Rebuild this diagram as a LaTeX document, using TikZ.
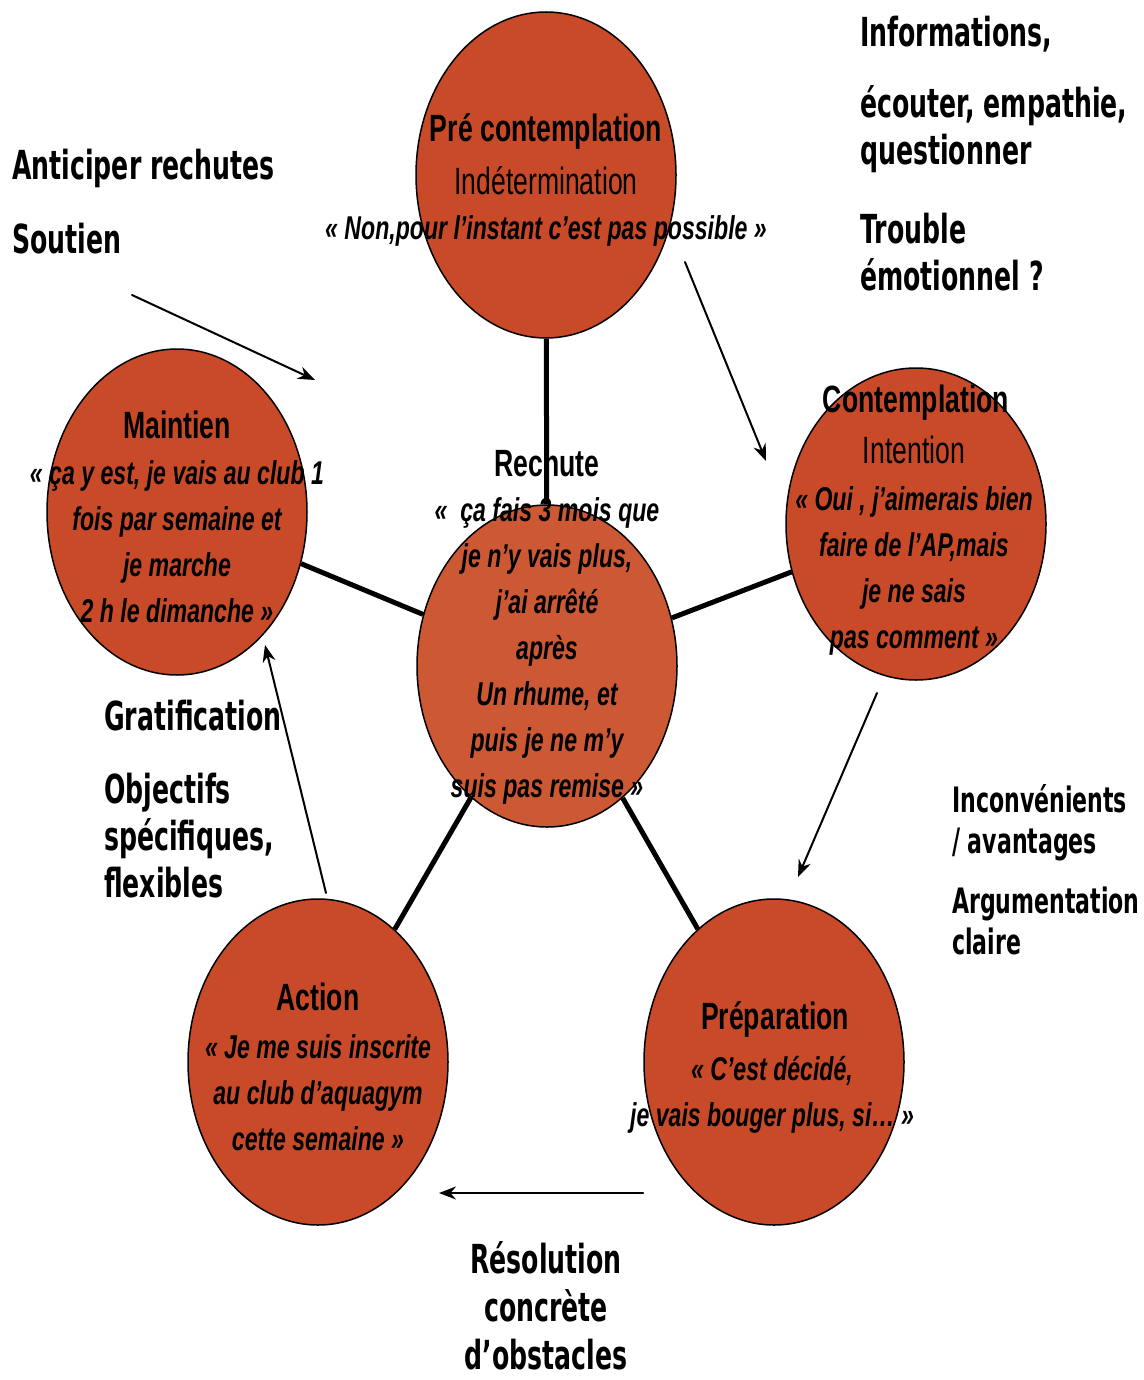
\documentclass[tikz,border=0pt]{standalone}
\usepackage{fontspec}
\setmainfont[FakeStretch=0.7]{Liberation Sans}
\newfontfamily\notefont[FakeStretch=0.63]{DejaVu Sans}
\usetikzlibrary{shapes.geometric,arrows.meta}
\definecolor{brique}{HTML}{C84A28}
\definecolor{briqueclair}{HTML}{CD5834}
\begin{document}
\begin{tikzpicture}[x=1pt,y=-1pt, line join=round, line cap=round, >={Stealth[length=17pt,width=13pt]},
	etape/.style={ellipse, draw=black, line width=1.5pt, fill=brique, inner sep=0pt, minimum width=260pt, minimum height=326pt},
	lien/.style={line width=5pt, line cap=butt},
	fleche/.style={->, line width=2pt},
	titre/.style={font=\fontsize{38}{46}\selectfont\bfseries, inner sep=0pt, anchor=base},
	soustitre/.style={font=\fontsize{38}{46}\selectfont, inner sep=0pt, anchor=base},
	citation/.style={font=\fontsize{33}{46}\selectfont\bfseries\itshape, align=center, inner sep=0pt, anchor=base},
	note/.style={font=\notefont\fontsize{40}{47}\selectfont\bfseries, align=left, inner sep=0pt, anchor=base west}]
	\useasboundingbox (0,0) rectangle (1143,1380);
	% les cinq etapes autour de la rechute
	\node[etape] (precont) at (546,175) {};
	\node[etape, minimum height=312pt] (contemp) at (916,524) {};
	\node[etape] (maintien) at (177,512) {};
	\node[etape, fill=briqueclair, minimum height=322pt] (rechute) at (547,666) {};
	\node[etape] (action) at (318,1062) {};
	\node[etape] (prep) at (774,1062) {};
	\foreach \e in {precont,contemp,prep,action,maintien}
		\draw[lien] (rechute) -- (\e);
	% fleches du cycle
	\coordinate (d1) at (685,262); \coordinate (f1) at (766,461);
	\coordinate (d2) at (877,693); \coordinate (f2) at (798,877);
	\coordinate (d3) at (643,1193); \coordinate (f3) at (439,1193);
	\coordinate (d4) at (326,893); \coordinate (f4) at (265,645);
	\coordinate (d5) at (132,295); \coordinate (f5) at (315,380);
	\foreach \i in {1,...,5}
		\draw[fleche] (d\i) -- (f\i);
	% textes des etapes (base = derniere ligne)
	\node[titre] (tprecont) at (546,142) {Pré contemplation};
	\node[soustitre] (sprecont) at (546,195) {Indétermination};
	\node[citation] (cprecont) at (546,240) {« Non,pour l’instant c’est pas possible »};
	\node[titre] (tcontemp) at (916,412) {Contemplation};
	\node[soustitre] (scontemp) at (914,463) {Intention};
	\node[citation] (ccontemp) at (914,648) {« Oui , j’aimerais bien\\faire de l’AP,mais\\je ne sais\\pas comment »};
	\node[titre] (tmaintien) at (177,438) {Maintien};
	\node[citation] (cmaintien) at (177,622) {« ça y est, je vais au club 1\\fois par semaine et\\je marche\\2 h le dimanche »};
	\node[titre] (trechute) at (547,476) {Rechute};
	\node[citation] (crechute) at (547,797) {«\ \ ça fais 3 mois que\\je n’y vais plus,\\j’ai arrêté\\après\\Un rhume, et\\puis je ne m’y\\suis pas remise »};
	\node[titre] (taction) at (318,1010) {Action};
	\node[citation] (caction) at (318,1150) {« Je me suis inscrite\\au club d’aquagym\\cette semaine »};
	\node[titre] (tprep) at (775,1029) {Préparation};
	\node[citation] (cprep) at (772,1126) {« C’est décidé,\\je vais bouger plus, si… »};
	% conseils
	\node[note] (n1) at (860,47) {Informations,};
	\node[note] (n2) at (860,165) {écouter, empathie,\\questionner};
	\node[note] (n3) at (860,290) {Trouble\\émotionnel ?};
	\node[note] (n4) at (12,180) {Anticiper rechutes};
	\node[note] (n5) at (12,253) {Soutien};
	\node[note] (n6) at (104,730) {Gratification};
	\node[note] (n7) at (104,897) {Objectifs\\spécifiques,\\flexibles};
	\node[note, font=\notefont\fontsize{35}{41}\selectfont\bfseries] (n8) at (952,853) {Inconvénients\\/ avantages};
	\node[note, font=\notefont\fontsize{35}{41}\selectfont\bfseries] (n9) at (952,954) {Argumentation\\claire};
	\node[note, align=center, anchor=base, font=\notefont\fontsize{40}{48}\selectfont\bfseries] (n10) at (546,1369) {Résolution\\concrète\\d’obstacles};
\end{tikzpicture}
\end{document}
